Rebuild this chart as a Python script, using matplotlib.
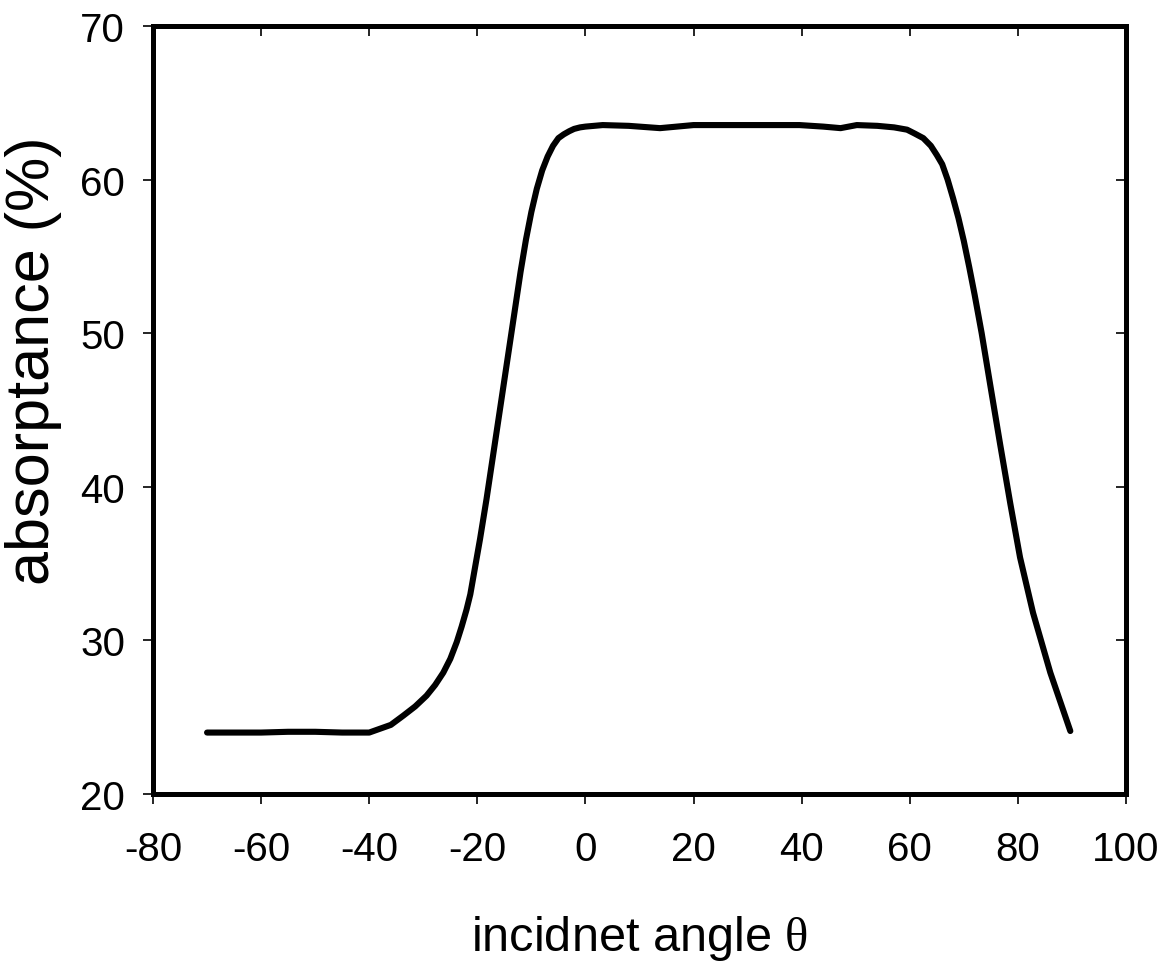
import numpy as np
import matplotlib
matplotlib.use("Agg")
import matplotlib.pyplot as plt

matplotlib.rcParams.update({'font.family': ['Liberation Sans', 'DejaVu Sans'],
                            'axes.unicode_minus': False,
                            'mathtext.fontset': 'custom',
                            'mathtext.it': 'Liberation Serif',
                            'mathtext.rm': 'Liberation Serif'})

# incident angle (deg) and absorptance (%)
angle = [-70, -65, -60, -55, -50, -45, -40, -36, -33.7, -31.5, -29.4, -27.8,
         -26.3, -25, -23.8, -22.9, -22.0, -21.3, -20.7, -19.5, -18.3, -16, -14, -12,
         -11, -10, -9, -8, -7, -6, -5, -4, -3, -2.1, -1, 0, 3.2, 8, 13.8, 20, 30, 39.6,
         44, 47.2, 50.2, 54, 57.1, 59.5, 60.9, 62.5, 63.9, 65, 66, 67, 68, 69, 70,
         71, 72, 73.3, 74.9, 76.7, 78.6, 80.4, 82.8, 86.0, 89.7]
absorp = [24.0, 24.0, 24.0, 24.05, 24.05, 24.0, 24.0, 24.5, 25.1, 25.7, 26.4, 27.1,
          27.9, 28.8, 29.9, 30.9, 32.0, 33.0, 34.2, 36.6, 39.2, 44.6, 49.3, 54.0,
          56.1, 57.9, 59.4, 60.6, 61.5, 62.2, 62.7, 62.95, 63.15, 63.3, 63.4, 63.45, 63.55, 63.5, 63.35, 63.55, 63.55, 63.55,
          63.45, 63.35, 63.55, 63.5, 63.4, 63.25, 63.0, 62.7, 62.2, 61.6, 61.0, 60.0, 58.8, 57.5, 56.0,
          54.3, 52.5, 50.0, 46.6, 42.8, 38.9, 35.4, 31.8, 27.9, 24.1]

xticks = np.arange(-80, 101, 20)
yticks = np.arange(20, 71, 10)

fig = plt.figure(figsize=(11.7, 9.7), dpi=100)
ax = fig.add_axes([153/1170, 1 - 795/970, 973/1170, 768/970])

ax.plot(angle, absorp, color="black", lw=4.4, solid_capstyle="round", solid_joinstyle="round")

ax.set_xlim(-80, 100)
ax.set_ylim(20, 70)
ax.set_xticks(xticks)
ax.set_yticks(yticks)
ax.tick_params(direction="out", length=7, width=1.2, labelsize=29)
ax.tick_params(axis="x", pad=19)
ax.tick_params(axis="y", pad=13)
for s in ax.spines.values():
	s.set_linewidth(3.6)

# inward mirrored ticks on top and right
top = ax.secondary_xaxis("top")
top.set_xticks(xticks[1:-1])
top.tick_params(direction="in", length=7, width=1.2, labeltop=False)
top.spines["top"].set_visible(False)
right = ax.secondary_yaxis("right")
right.set_yticks(yticks[1:-1])
right.tick_params(direction="in", length=7, width=1.2, labelright=False)
right.spines["right"].set_visible(False)

ax.set_xlabel(r"incidnet angle $\theta$", fontsize=35)
ax.xaxis.set_label_coords(0.5, -0.155)
ax.set_ylabel("absorptance (%)", fontsize=44)
ax.yaxis.set_label_coords(-0.094, 0.565)

fig.savefig("out.png", dpi=100)
